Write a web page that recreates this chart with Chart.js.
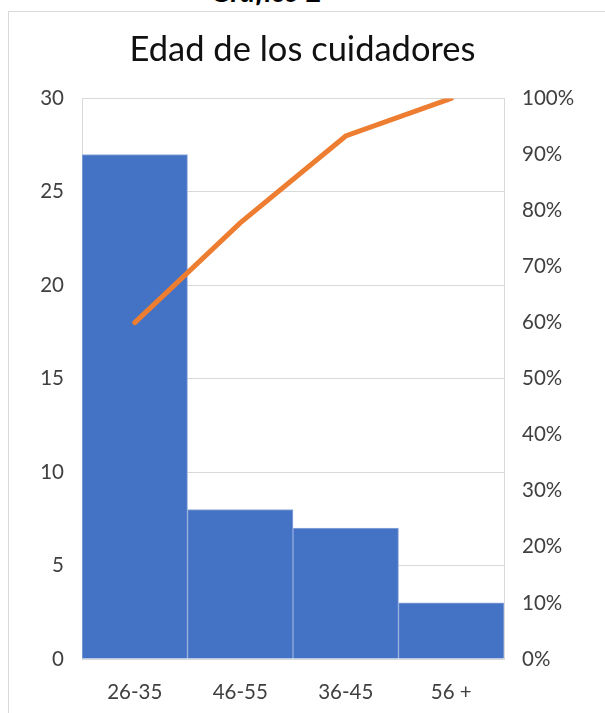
<!DOCTYPE html>
<html lang="es">
<head>
    <meta charset="UTF-8">
    <title>Edad de los cuidadores</title>
    <style>
        body {
            margin: 0;
            width: 605px;
            height: 713px;
            overflow: hidden;
            position: relative;
            background: #fff;
            font-family: Lato, "Open Sans", sans-serif;
        }
        .caption {
            position: absolute;
            top: -27px;
            left: 211px;
            font-size: 29px;
            font-weight: bold;
            font-style: italic;
            color: #000;
        }
        .frame {
            position: absolute;
            left: 8px;
            top: 11px;
            width: 700px;
            height: 800px;
            border: 1px solid #d9d9d9;
        }
        .chart-box {
            position: absolute;
            left: 0;
            top: 0;
            width: 605px;
            height: 713px;
        }
    </style>
    <script src="https://cdn.jsdelivr.net/npm/chart.js"></script>
</head>
<body>
    <div class="caption">Gráfico 2</div>
    <div class="frame"></div>
    <div class="chart-box">
        <canvas id="paretoChart" width="605" height="713"></canvas>
    </div>
    <script>
        const categorias = ['26-35', '46-55', '36-45', '56 +'];
        const cuidadores = [27, 8, 7, 3];
        const acumulado = [60, 77.8, 93.3, 100];

        const tickFont = { family: 'Lato', size: 20.5 };
        const tickColor = '#404040';
        const gridColor = '#d9d9d9';

        new Chart(document.getElementById('paretoChart'), {
            data: {
                labels: categorias,
                datasets: [
                    {
                        type: 'line',
                        data: acumulado,
                        yAxisID: 'y1',
                        borderColor: '#ED7D31',
                        borderWidth: 5,
                        borderCapStyle: 'round',
                        pointRadius: 0,
                        tension: 0,
                        order: 1
                    },
                    {
                        type: 'bar',
                        data: cuidadores,
                        yAxisID: 'y',
                        backgroundColor: '#4472C4',
                        borderColor: '#8FAADC',
                        borderWidth: 1,
                        categoryPercentage: 1,
                        barPercentage: 1,
                        order: 2
                    }
                ]
            },
            options: {
                responsive: false,
                animation: false,
                layout: { padding: { top: 0, left: 0, right: 0, bottom: 0 } },
                plugins: {
                    legend: { display: false },
                    tooltip: { enabled: false },
                    title: {
                        display: true,
                        text: 'Edad de los cuidadores',
                        color: '#111',
                        font: { family: 'Lato', size: 34.5, weight: 'normal' },
                        padding: { top: 29, bottom: 28 }
                    }
                },
                scales: {
                    x: {
                        grid: { display: false },
                        border: { display: true, color: gridColor },
                        ticks: { font: tickFont, color: tickColor, padding: 13 },
                        afterFit: s => { s.height = 54; }
                    },
                    y: {
                        position: 'left',
                        min: 0,
                        max: 30,
                        ticks: { stepSize: 5, font: tickFont, color: tickColor, padding: 18 },
                        grid: { color: gridColor, drawTicks: false },
                        border: { display: true, color: gridColor },
                        afterFit: s => { s.width = 82; }
                    },
                    y1: {
                        position: 'right',
                        min: 0,
                        max: 100,
                        ticks: {
                            stepSize: 10,
                            font: tickFont,
                            color: tickColor,
                            padding: 18,
                            callback: v => v + '%'
                        },
                        grid: { display: false, drawTicks: false },
                        border: { display: true, color: gridColor },
                        afterFit: s => { s.width = 101; }
                    }
                }
            }
        });
    </script>
</body>
</html>
